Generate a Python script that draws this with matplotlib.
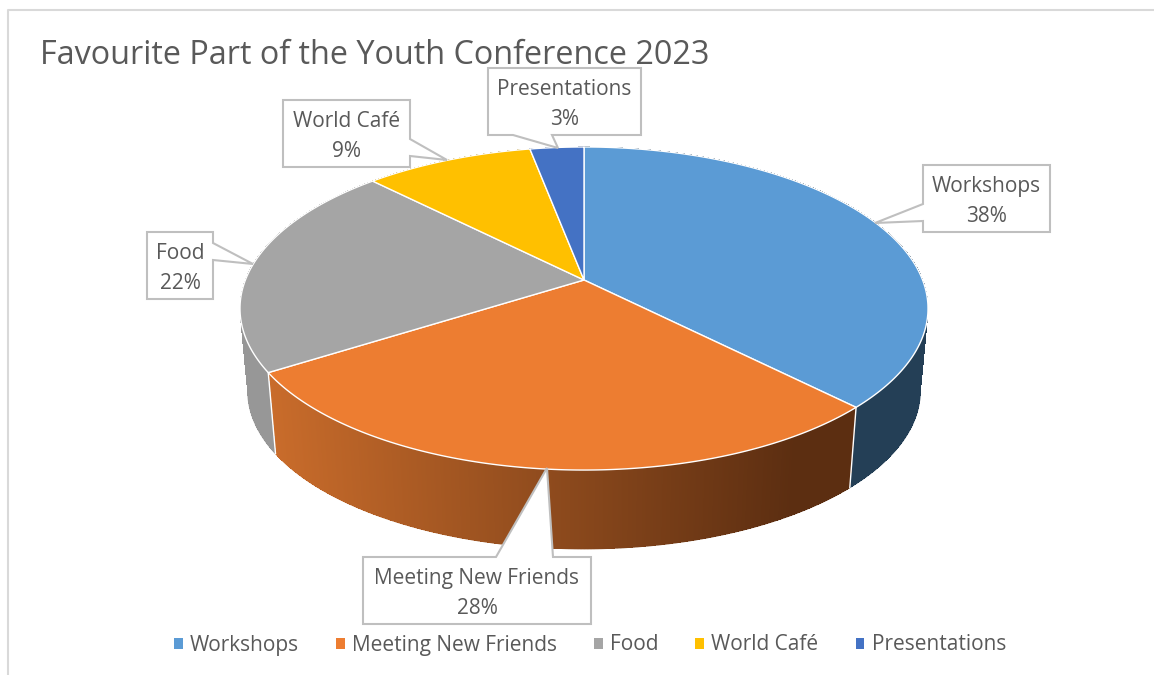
import numpy as np
import matplotlib
matplotlib.use('Agg')
import matplotlib.pyplot as plt
from matplotlib.collections import LineCollection, PolyCollection
from matplotlib.colors import to_rgb
from matplotlib.patches import Patch, Polygon

plt.rcParams['font.family'] = ['Open Sans', 'DejaVu Sans']

categories = ['Workshops', 'Meeting New Friends', 'Food', 'World Café', 'Presentations']
values = [37.6, 28.4, 21.6, 9.4, 3.0]
colors = ['#5B9BD5', '#ED7D31', '#A5A5A5', '#FFC000', '#4472C4']
title = 'Favourite Part of the Youth Conference 2023'

# side wall colours: left end / right end of the shading, pixel x range
wall_shade = {
    'Workshops': ('#243F56', '#243F56'),
    'Meeting New Friends': ('#C96C2B', '#5C2E11'),
    'Food': ('#979797', '#858585'),
    'World Café': ('#A67C00', '#A67C00'),
    'Presentations': ('#2C4A80', '#2C4A80'),
}

# pie geometry, in pixels of the picture
CX, CY = 584, 280
R, B, K = 338.6, 156.5, 0.1765
LOWER_SCALE, LOWER_CY = 0.977, 363
TEXT = '#595959'
LINE = '#BFBFBF'


def project(theta, lower=False):
    # theta is clockwise from the top of the pie
    w = 1 + K * np.cos(theta)
    x = R * np.sin(theta) / w
    y = -B * np.cos(theta) / w
    if lower:
        return CX + LOWER_SCALE * x, LOWER_CY + LOWER_SCALE * y
    return CX + x, CY + y


def mix(c1, c2, t):
    return tuple((1 - t) * a + t * b for a, b in zip(to_rgb(c1), to_rgb(c2)))


fig = plt.figure(figsize=(11.54, 6.75), dpi=100)
ax = fig.add_axes([0, 0, 1, 1])
ax.set_xlim(0, 1154)
ax.set_ylim(675, 0)
ax.axis('off')

# chart frame
ax.plot([8, 8, 1154], [675, 10, 10], color='#D9D9D9', lw=1.5)

fractions = np.array(values) / sum(values)
edges = np.concatenate([[0], np.cumsum(fractions)]) * 2 * np.pi

# side walls, no antialiasing so the thin quads leave no seams
for i, name in enumerate(categories):
    th = np.linspace(edges[i], edges[i + 1], 500)
    x0, y0 = project(th)
    x1, y1 = project(th, lower=True)
    quads, fills = [], []
    left, right = wall_shade[name]
    for j in range(len(th) - 1):
        quads.append([(x0[j], y0[j]), (x0[j + 1], y0[j + 1]), (x1[j + 1], y1[j + 1]), (x1[j], y1[j])])
        t = np.clip((x1[j] - 275) / (790 - 275), 0, 1)
        fills.append(mix(left, right, t))
    ax.add_collection(PolyCollection(quads, facecolors=fills, edgecolors='none', antialiaseds=False, zorder=2))
    # smooth the jagged lower edge
    rim = np.column_stack([x1, y1])
    ax.add_collection(LineCollection(np.stack([rim[:-1], rim[1:]], axis=1), colors=fills, linewidths=1.0, zorder=2))

# white seams on the visible wall corners
for e in edges[1:3]:
    xa, ya = project(e)
    xb, yb = project(e, lower=True)
    ax.plot([xa, xb], [ya, yb], color='white', lw=1, zorder=3)

# top of the pie
handles = []
for i, name in enumerate(categories):
    th = np.linspace(edges[i], edges[i + 1], 200)
    x, y = project(th)
    pts = np.vstack([[CX, CY], np.column_stack([x, y])])
    ax.add_patch(Polygon(pts, closed=True, facecolor=colors[i], edgecolor='white', lw=1, zorder=4))
    handles.append(Patch(facecolor=colors[i], edgecolor='none', label=name))

# callouts: box (x0, y0, x1, y1), pointer base and tip
callouts = [
    ((923, 165, 1050, 232), [(923, 204), (875, 223), (923, 221)]),
    ((363, 557, 591, 624), [(496, 557), (547, 468), (553, 557)]),
    ((147, 232, 213, 299), [(213, 243), (253, 264), (213, 260)]),
    ((283, 100, 410, 167), [(410, 139), (447, 160), (410, 156)]),
    ((488, 68, 641, 135), [(513, 135), (558, 148), (552, 135)]),
]
for (box, ptr), name, val in zip(callouts, categories, values):
    x0, y0, x1, y1 = box
    if ptr[0][0] == x1:  # pointer leaves the right side
        path = [(x0, y0), (x1, y0), *ptr, (x1, y1), (x0, y1)]
    elif ptr[0][0] == x0:  # pointer leaves the left side
        path = [(x0, y0), (x1, y0), (x1, y1), (x0, y1), ptr[2], ptr[1], ptr[0]]
    elif ptr[0][1] == y0:  # top side
        path = [(x0, y0), *ptr, (x1, y0), (x1, y1), (x0, y1)]
    else:  # bottom side
        path = [(x0, y0), (x1, y0), (x1, y1), ptr[2], ptr[1], ptr[0], (x0, y1)]
    ax.add_patch(Polygon(path, closed=True, facecolor='white', edgecolor=LINE, lw=1.5, zorder=5))
    ax.text((x0 + x1) / 2, (y0 + y1) / 2 + 3, f'{name}\n{val:.0f}%', ha='center', va='center',
            fontsize=15, color=TEXT, linespacing=1.55, zorder=6)

ax.text(40, 55, title, fontsize=23.35, color=TEXT, ha='left', va='center')

ax.legend(handles=handles, loc='center', bbox_to_anchor=(590 / 1154, 1 - 645 / 675), ncol=5, frameon=False,
          fontsize=15, labelcolor=TEXT, handlelength=0.43, handleheight=0.43, handletextpad=0.34,
          columnspacing=1.77, borderpad=0)

fig.savefig('out.png', dpi=100)
